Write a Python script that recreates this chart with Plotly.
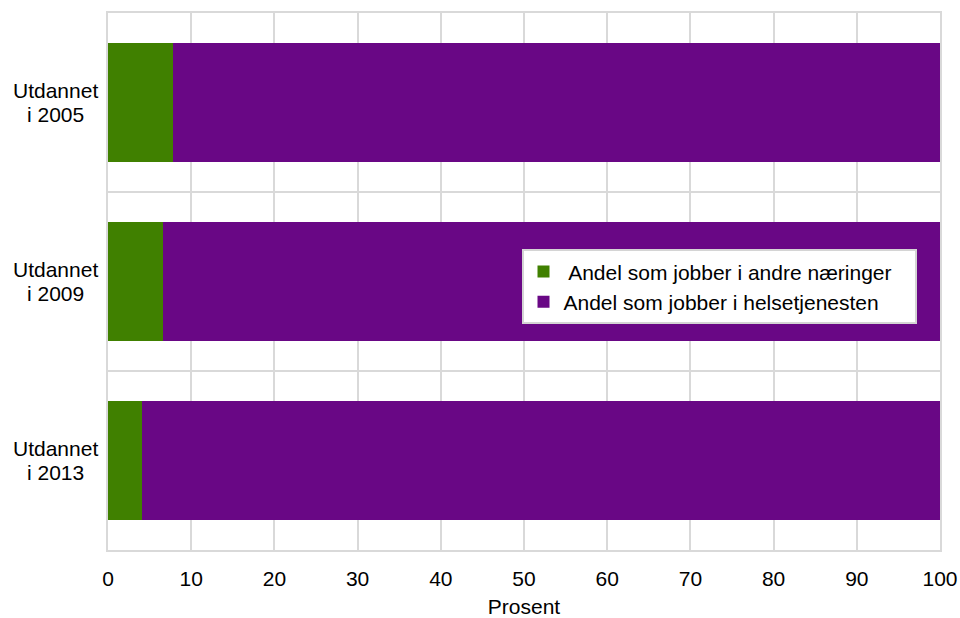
import plotly.graph_objects as go

categories = ["Utdannet<br>i 2005", "Utdannet<br>i 2009", "Utdannet<br>i 2013"]
andre = [7.8, 6.6, 4.1]
helse = [92.2, 93.4, 95.9]
x_ticks = [0, 10, 20, 30, 40, 50, 60, 70, 80, 90, 100]

pos = list(range(len(categories)))
FONT = "Liberation Sans, Arial, sans-serif"
FS = 21

fig = go.Figure()
fig.add_trace(go.Bar(y=pos, x=andre, orientation="h",
                     name=" Andel som jobber i andre næringer\u00a0\u00a0\u00a0",
                     legendgroup="a", marker=dict(color="#408000", line=dict(width=0)), width=0.67))
fig.add_trace(go.Bar(y=pos, x=helse, orientation="h", name="Andel som jobber i helsetjenesten",
                     legendgroup="b", marker=dict(color="#690785", line=dict(width=0)), width=0.67))

for p, c in zip(pos, categories):
    lines = c.split("<br>")
    for k, ln in enumerate(lines):
        fig.add_annotation(x=0, xref="paper", xanchor="center", xshift=-53, y=p, yref="y",
                           yshift=12 - 24 * k, text=ln, showarrow=False,
                           font=dict(family=FONT, size=FS, color="#000"))

fig.update_layout(
    barmode="stack",
    width=960, height=618,
    margin=dict(l=108, r=20, t=13, b=68),
    paper_bgcolor="white", plot_bgcolor="white",
    font=dict(family=FONT, size=FS, color="#000"),
    showlegend=True,
    legend=dict(x=0.497, y=0.56, xanchor="left", yanchor="top",
                bgcolor="white", bordercolor="#d4d4d4", borderwidth=2,
                traceorder="normal", tracegroupgap=5,
                font=dict(family=FONT, size=FS, color="#000")),
    xaxis=dict(range=[0, 100], tickvals=x_ticks, showgrid=True, gridcolor="#d9d9d9", gridwidth=2,
               showline=True, linecolor="#d9d9d9", linewidth=2, mirror=True, zeroline=False,
               ticks="outside", ticklen=9, tickcolor="rgba(0,0,0,0)", automargin=False,
               title=dict(text="Prosent", font=dict(family=FONT, size=FS), standoff=12),
               tickfont=dict(family=FONT, size=FS)),
    yaxis=dict(range=[2.5, -0.5], tickvals=pos, showticklabels=False, showgrid=False,
               showline=True, linecolor="#d9d9d9", linewidth=2, mirror=True, zeroline=False,
               automargin=False,
               minor=dict(tickvals=[0.5, 1.5], showgrid=True, gridcolor="#d9d9d9", gridwidth=2)),
)

fig.write_html("out.html", config={"displayModeBar": False},
               post_script="document.body.style.margin='0';document.body.style.padding='0';")
